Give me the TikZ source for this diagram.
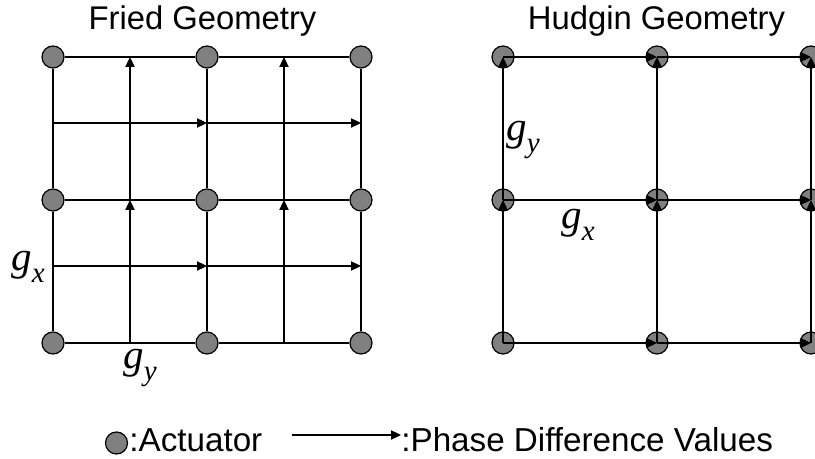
\documentclass[tikz,border=0pt]{standalone}
\usepackage{fontspec}
\setmainfont{Liberation Sans}
\newfontfamily\gfont{Liberation Serif}
\usepackage{tikz}
\usetikzlibrary{positioning, arrows.meta}
\definecolor{actfill}{HTML}{808080}
\definecolor{ink}{HTML}{000000}
\newcommand{\gsub}[1]{{\gfont\itshape g\raisebox{-6pt}{\fontsize{14.5}{15}\selectfont #1}}}
\tikzset{
  actuator/.style={circle, draw=ink, fill=actfill, line width=0.6pt,
                   minimum size=11pt, inner sep=0pt},
  gridline/.style={draw=ink, line width=0.8pt},
  arr/.style={-{Triangle[length=5pt, width=4.6pt]}, draw=ink, line width=0.8pt},
  title/.style={inner sep=0pt, anchor=base, font=\fontsize{16.4}{19}\selectfont},
  legtext/.style={inner sep=0pt, anchor=base west, font=\fontsize{16.6}{19}\selectfont},
  glabel/.style={inner sep=0pt, anchor=base, font=\fontsize{20.5}{24}\selectfont},
}

\begin{document}
\begin{tikzpicture}[x=0.5pt, y=-0.5pt]
  \useasboundingbox (0,0) rectangle (815,459);

  % titles
  \node[title] (friedtitle) at (202.5,30) {Fried Geometry};
  \node[title] (hudgintitle) at (656.5,30) {Hudgin Geometry};

  % ---- Fried geometry ----
  \node[actuator] (f11) at (53,57) {};
  \node[actuator] (f21) at (207,57) {};
  \node[actuator] (f31) at (361,57) {};
  \node[actuator] (f12) at (53,200) {};
  \node[actuator] (f22) at (207,200) {};
  \node[actuator] (f32) at (361,200) {};
  \node[actuator] (f13) at (53,343) {};
  \node[actuator] (f23) at (207,343) {};
  \node[actuator] (f33) at (361,343) {};
  % lines between actuators
  \draw[gridline] (f11) -- (f21) (f21) -- (f31);
  \draw[gridline] (f12) -- (f22) (f22) -- (f32);
  \draw[gridline] (f13) -- (f23) (f23) -- (f33);
  \draw[gridline] (f11) -- (f12) (f12) -- (f13);
  \draw[gridline] (f21) -- (f22) (f22) -- (f23);
  \draw[gridline] (f31) -- (f32) (f32) -- (f33);
  % phase differences
  \coordinate (fv1a) at (130,343); \coordinate (fv1b) at (130,200); \coordinate (fv1c) at (130,57);
  \coordinate (fv2a) at (284,343); \coordinate (fv2b) at (284,200); \coordinate (fv2c) at (284,57);
  \coordinate (fh1a) at (53,123);  \coordinate (fh1b) at (207,123); \coordinate (fh1c) at (361,123);
  \coordinate (fh2a) at (53,266);  \coordinate (fh2b) at (207,266); \coordinate (fh2c) at (361,266);
  \draw[arr] (fv1a) -- (fv1b);
  \draw[arr] (fv1b) -- (fv1c);
  \draw[arr] (fv2a) -- (fv2b);
  \draw[arr] (fv2b) -- (fv2c);
  \draw[arr] (fh1a) -- (fh1b);
  \draw[arr] (fh1b) -- (fh1c);
  \draw[arr] (fh2a) -- (fh2b);
  \draw[arr] (fh2b) -- (fh2c);
  \node[glabel] (fgx) at (28,271) {\gsub{x}};
  \node[glabel] (fgy) at (140,369) {\gsub{y}};

  % ---- Hudgin geometry ----
  \node[actuator] (h11) at (503,57) {};
  \node[actuator] (h21) at (657,57) {};
  \node[actuator] (h31) at (811,57) {};
  \node[actuator] (h12) at (503,200) {};
  \node[actuator] (h22) at (657,200) {};
  \node[actuator] (h32) at (811,200) {};
  \node[actuator] (h13) at (503,343) {};
  \node[actuator] (h23) at (657,343) {};
  \node[actuator] (h33) at (811,343) {};
  % x differences
  \draw[arr] (h11.center) -- (h21.center);
  \draw[arr] (h21.center) -- (h31.center);
  \draw[arr] (h12.center) -- (h22.center);
  \draw[arr] (h22.center) -- (h32.center);
  \draw[arr] (h13.center) -- (h23.center);
  \draw[arr] (h23.center) -- (h33.center);
  % y differences
  \draw[arr] (h13.center) -- (h12.center);
  \draw[arr] (h12.center) -- (h11.center);
  \draw[arr] (h23.center) -- (h22.center);
  \draw[arr] (h22.center) -- (h21.center);
  \draw[arr] (h33.center) -- (h32.center);
  \draw[arr] (h32.center) -- (h31.center);
  \node[glabel] (hgy) at (523,141) {\gsub{y}};
  \node[glabel] (hgx) at (578,229) {\gsub{x}};

  % ---- legend ----
  \node[actuator] (legact) at (116.5,443) {};
  \node[legtext] (actlab) at (129,452) {:Actuator};
  \coordinate (legstart) at (292,435);
  \node[legtext] (phlab) at (401,452) {:Phase Difference Values};
  \draw[arr] (legstart) -- (legstart -| phlab.west);
\end{tikzpicture}
\end{document}
